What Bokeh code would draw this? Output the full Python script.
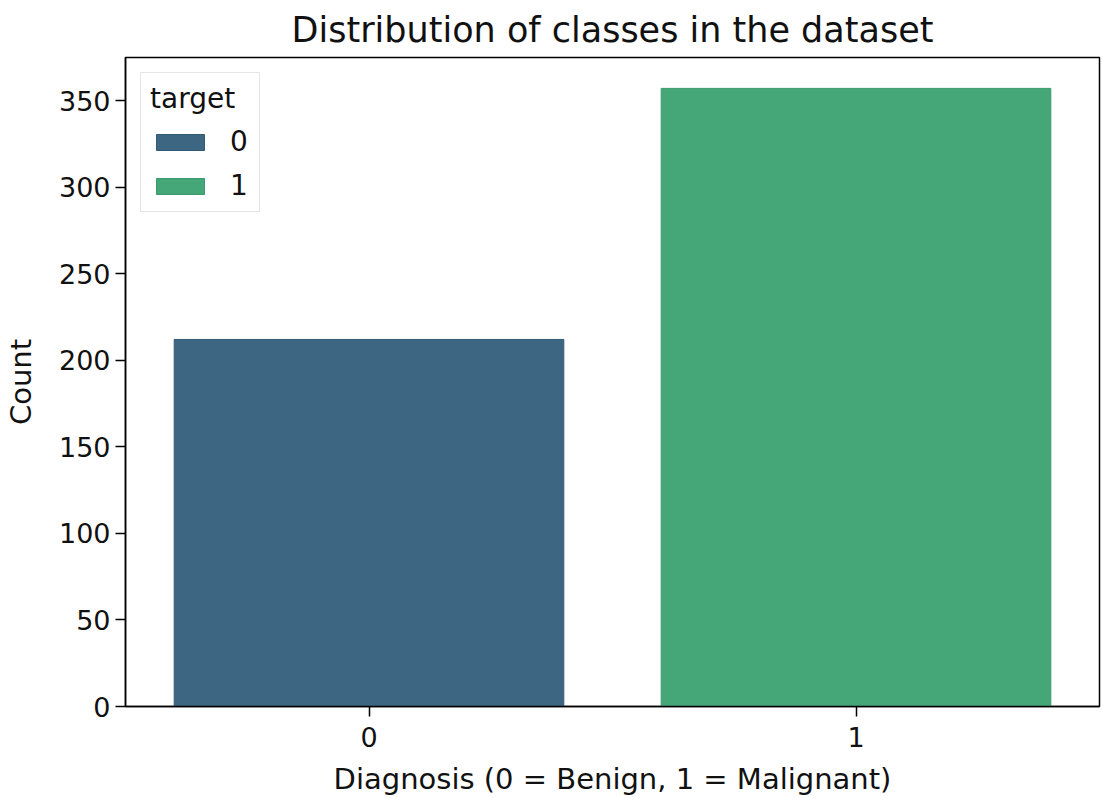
from bokeh.plotting import figure
from bokeh.models import FactorRange, Range1d, FixedTicker, Legend, LegendItem, ColumnDataSource
from bokeh.embed import file_html
from bokeh.resources import INLINE

# Class counts per diagnosis label
categories = ["0", "1"]
counts = [212, 357]
colors = ["#3d6682", "#45a778"]
edge_colors = ["#335a75", "#3b9a6c"]
y_ticks = [0, 50, 100, 150, 200, 250, 300, 350]

FONT = "DejaVu Sans"
TEXT = "#111111"

source = ColumnDataSource(dict(x=categories, top=counts, fill=colors, edge=edge_colors))

p = figure(
    x_range=FactorRange(*categories, range_padding=0),
    y_range=Range1d(0, max(counts) * 1.05),
    width=1103, height=798,
    frame_width=974, frame_height=649,
    min_border_left=125, min_border_right=4, min_border_top=56, min_border_bottom=93,
    output_backend="svg", toolbar_location=None,
    title="Distribution of classes in the dataset",
)

r = p.vbar(x="x", top="top", width=0.8, source=source,
           fill_color="fill", line_color="edge", line_width=1)

# Title
p.title.text_font = FONT
p.title.text_font_size = "35px"
p.title.text_font_style = "normal"
p.title.align = "center"
p.title.text_color = TEXT
p.title.standoff = 15

# Axes
for ax in (p.xaxis[0], p.yaxis[0]):
    ax.major_label_text_font = FONT
    ax.major_label_text_font_size = "27px"
    ax.major_label_text_color = TEXT
    ax.axis_label_text_font = FONT
    ax.axis_label_text_font_size = "29px"
    ax.axis_label_text_font_style = "normal"
    ax.axis_label_text_color = TEXT
    ax.axis_line_color = "black"
    ax.axis_line_width = 1.5
    ax.major_tick_line_color = "black"
    ax.major_tick_line_width = 1.5
    ax.major_tick_out = 10
    ax.major_tick_in = 0
    ax.minor_tick_line_color = None

p.xaxis.axis_label = "Diagnosis (0 = Benign, 1 = Malignant)"
p.yaxis.axis_label = "Count"
p.yaxis.ticker = FixedTicker(ticks=y_ticks)
p.yaxis.major_label_standoff = 5
p.xaxis.major_label_standoff = 10
p.yaxis.axis_label_standoff = 18
p.xaxis.axis_label_standoff = 12

p.xgrid.grid_line_color = None
p.ygrid.grid_line_color = None
p.outline_line_color = "black"
p.outline_line_width = 1.5
p.background_fill_color = "white"
p.border_fill_color = "white"

# Legend
items = [LegendItem(label=c, renderers=[r], index=i) for i, c in enumerate(categories)]
legend = Legend(items=items, location="top_left", title="target")
legend.title_text_font = FONT
legend.title_text_font_size = "28px"
legend.title_text_font_style = "normal"
legend.title_text_color = TEXT
legend.title_standoff = 10
legend.label_text_font = FONT
legend.label_text_font_size = "28px"
legend.label_text_color = TEXT
legend.glyph_width = 60
legend.glyph_height = 20
legend.label_standoff = 20
legend.spacing = 11
legend.padding = 9
legend.margin = 15
legend.border_line_color = "#cccccc"
legend.border_line_width = 1.5
legend.background_fill_alpha = 0.8
p.add_layout(legend)

open("out.html", "w").write(file_html(p, INLINE))
